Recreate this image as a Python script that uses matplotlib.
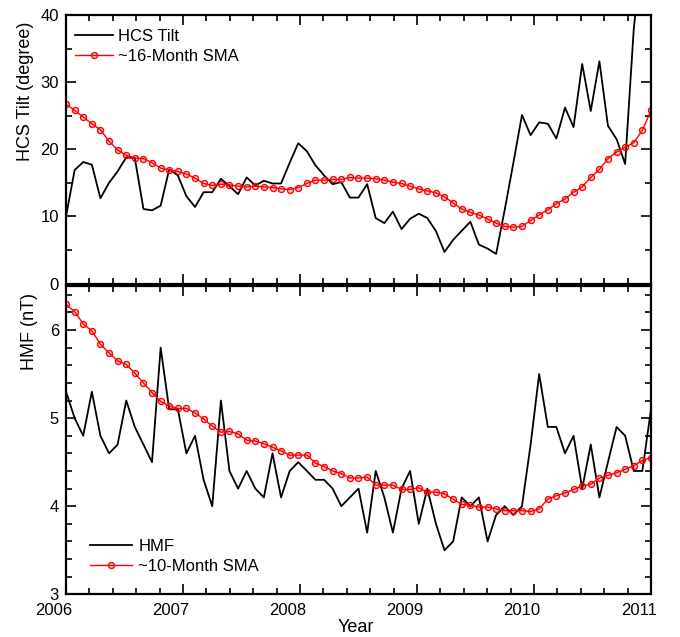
import numpy as np
import matplotlib
matplotlib.use('Agg')
import matplotlib.pyplot as plt
from matplotlib.ticker import MultipleLocator
import matplotlib.transforms as mtransforms

plt.rcParams['font.family'] = ['Liberation Sans', 'DejaVu Sans']

# Decimal year of each solar rotation sample
year = [2006.000, 2006.074, 2006.147, 2006.221, 2006.294, 2006.368, 2006.441, 2006.515,
        2006.588, 2006.662, 2006.735, 2006.809, 2006.882, 2006.956, 2007.029, 2007.103,
        2007.176, 2007.250, 2007.324, 2007.397, 2007.471, 2007.544, 2007.618, 2007.691,
        2007.765, 2007.838, 2007.912, 2007.985, 2008.059, 2008.132, 2008.206, 2008.279,
        2008.353, 2008.426, 2008.500, 2008.574, 2008.647, 2008.721, 2008.794, 2008.868,
        2008.941, 2009.015, 2009.088, 2009.162, 2009.235, 2009.309, 2009.382, 2009.456,
        2009.529, 2009.603, 2009.676, 2009.750, 2009.824, 2009.897, 2009.971, 2010.044,
        2010.118, 2010.191, 2010.265, 2010.338, 2010.412, 2010.485, 2010.559, 2010.632,
        2010.706, 2010.779, 2010.853, 2010.926, 2011.000]

hcs_tilt = [10.0, 16.9, 18.1, 17.7, 12.7, 15.0, 16.7, 18.8, 18.7, 11.1, 10.9, 11.6,
            17.0, 16.1, 13.0, 11.4, 13.6, 13.6, 15.6, 14.5, 13.3, 15.8, 14.6,
            15.3, 14.9, 14.9, 18.0, 20.9, 19.7, 17.6, 16.1, 14.8, 15.1, 12.8, 12.8,
            14.8, 9.75, 9.0, 10.7, 8.1, 9.65, 10.4, 9.75, 7.8, 4.7, 6.5,
            7.85, 9.2, 5.8, 5.2, 4.4, 11.0, 18.0, 25.1, 22.1, 24.0, 23.8, 21.6,
            26.2, 23.3, 32.7, 25.7, 33.1, 23.5, 21.5, 17.8, 38.0, 50.0, 50.0]

hcs_sma16 = [26.7, 25.8, 24.8, 23.8, 22.9, 21.2, 19.9, 19.1, 18.7, 18.6, 18.0, 17.2,
             16.9, 16.7, 16.3, 15.7, 14.9, 14.6, 14.8, 14.7, 14.5, 14.4, 14.5,
             14.4, 14.3, 14.1, 14.0, 14.3, 14.9, 15.4, 15.4, 15.5, 15.5, 15.8, 15.7,
             15.7, 15.6, 15.4, 15.1, 14.9, 14.5, 14.1, 13.8, 13.5, 12.9, 12.0,
             11.1, 10.6, 10.2, 9.6, 9.0, 8.5, 8.4, 8.5, 9.4, 10.2, 11.0, 11.9,
             12.6, 13.6, 14.4, 15.8, 17.0, 18.6, 19.6, 20.3, 21.0, 22.8, 25.8]

hmf = [5.3, 5.0, 4.8, 5.3, 4.8, 4.6, 4.7, 5.2, 4.9, 4.7, 4.5, 5.8,
       5.1, 5.1, 4.6, 4.8, 4.3, 4.0, 5.2, 4.4, 4.2, 4.4, 4.2,
       4.1, 4.6, 4.1, 4.4, 4.5, 4.4, 4.3, 4.3, 4.2, 4.0, 4.1, 4.2,
       3.7, 4.4, 4.1, 3.7, 4.2, 4.4, 3.8, 4.2, 3.8, 3.5, 3.6,
       4.1, 4.0, 4.1, 3.6, 3.9, 4.0, 3.9, 4.0, 4.7, 5.5, 4.9, 4.9,
       4.6, 4.8, 4.2, 4.7, 4.1, 4.5, 4.9, 4.8, 4.4, 4.4, 5.1]

hmf_sma10 = [6.29, 6.21, 6.07, 5.99, 5.84, 5.74, 5.65, 5.61, 5.51, 5.40, 5.29, 5.19,
             5.14, 5.11, 5.11, 5.06, 4.99, 4.91, 4.84, 4.85, 4.82, 4.75, 4.74,
             4.71, 4.67, 4.63, 4.58, 4.58, 4.58, 4.49, 4.45, 4.40, 4.37, 4.32, 4.32,
             4.33, 4.24, 4.24, 4.24, 4.19, 4.19, 4.21, 4.16, 4.16, 4.14, 4.08,
             4.02, 4.01, 3.99, 3.99, 3.97, 3.95, 3.95, 3.95, 3.94, 3.97, 4.08, 4.12,
             4.15, 4.19, 4.23, 4.25, 4.32, 4.35, 4.38, 4.42, 4.46, 4.52, 4.55]

year_ticks = [2006, 2007, 2008, 2009, 2010, 2011]
year_labels = ['2006', '2007', '2008', '2009', '2010', '2011']

W, H = 680, 637
fig = plt.figure(figsize=(W / 100, H / 100), dpi=100)

def fx(px):
    return px / W

def fy(py):
    return 1 - py / H

left, right = 66, 651
ax1 = fig.add_axes([fx(left), fy(283.5), fx(right - left), fy(15) - fy(283.5)])
ax2 = fig.add_axes([fx(left), fy(594.3), fx(right - left), fy(286) - fy(594.3)])

red = '#ff0000'
face = (1.0, 0.0, 0.0, 0.18)
ax1.plot(year, hcs_tilt, color='black', lw=1.3, label='HCS Tilt')
ax1.plot(year, hcs_sma16, color=red, lw=1.0, marker='o', ms=4.3, mfc=face,
         mec=red, mew=1.0, label='~16-Month SMA')
ax2.plot(year, hmf, color='black', lw=1.3, label='HMF')
ax2.plot(year, hmf_sma10, color=red, lw=1.0, marker='o', ms=4.3, mfc=face,
         mec=red, mew=1.0, label='~10-Month SMA')

for ax in (ax1, ax2):
    ax.set_xlim(2006, 2011)
    ax.set_xticks(year_ticks)
    ax.xaxis.set_minor_locator(MultipleLocator(0.2))
    ax.tick_params(which='both', direction='in', top=True, right=True,
                   labelsize=12, width=1.2)
    ax.tick_params(which='major', length=7.5, pad=5)
    ax.tick_params(which='minor', length=4.5)
    for sp in ax.spines.values():
        sp.set_linewidth(1.6)

ax1.set_ylim(0, 40)
ax1.yaxis.set_major_locator(MultipleLocator(10))
ax1.yaxis.set_minor_locator(MultipleLocator(5))
ax1.set_xticklabels([])

ax2.set_ylim(3, 6.5)
ax2.yaxis.set_major_locator(MultipleLocator(1))
ax2.yaxis.set_minor_locator(MultipleLocator(0.2))
ax2.set_xticklabels(year_labels)
ax2.tick_params(axis='x', which='major', pad=6)

shift = mtransforms.ScaledTranslation(-12 / 100, 0, fig.dpi_scale_trans)
for lab in ax2.get_xticklabels():
    lab.set_transform(lab.get_transform() + shift)

fig.text(fx(25), fy(91), 'HCS Tilt (degree)', rotation=90, ha='center', va='center', fontsize=13)
fig.text(fx(29), fy(331), 'HMF (nT)', rotation=90, ha='center', va='center', fontsize=13)
fig.text(fx(356), fy(627), 'Year', ha='center', va='center', fontsize=13)

ax1.legend(loc='upper left', bbox_to_anchor=((75 - left) / (right - left), 0.948),
           frameon=False, fontsize=12, handlelength=2.3, handletextpad=0.3,
           labelspacing=0.3, borderpad=0, borderaxespad=0, numpoints=1)
ax2.legend(loc='lower left', bbox_to_anchor=((90 - left) / (right - left), 0.066),
           frameon=False, fontsize=12, handlelength=2.5, handletextpad=0.4,
           labelspacing=0.3, borderpad=0, borderaxespad=0, numpoints=1)

fig.savefig('out.png', dpi=100)
